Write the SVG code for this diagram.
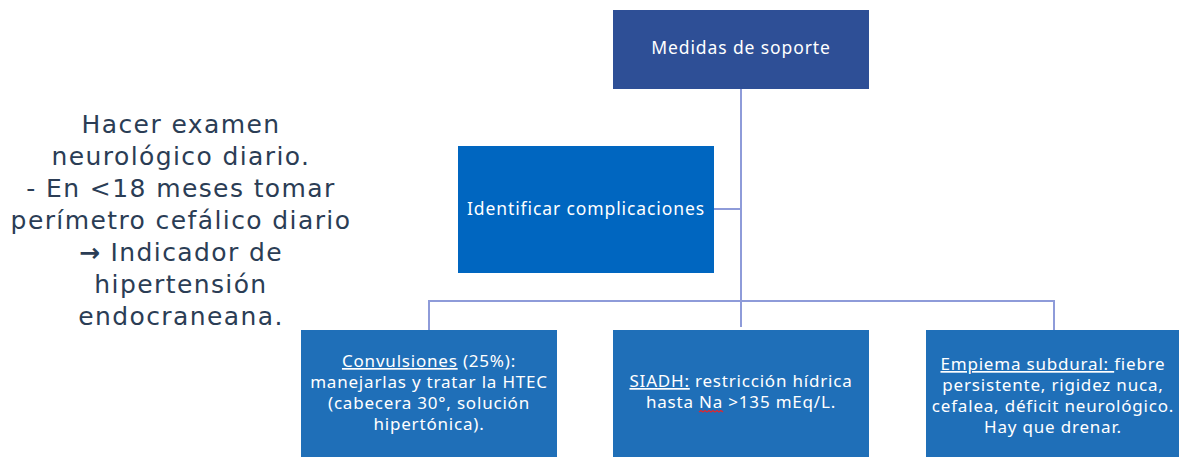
<svg xmlns="http://www.w3.org/2000/svg" width="1179" height="457" viewBox="0 0 1179 457">
<style>
.t{font-family:"Noto Sans","Open Sans",sans-serif;fill:#ffffff;font-size:17px;letter-spacing:0.8px;text-anchor:middle}
.h{font-size:17.5px;letter-spacing:0.9px}
.side{font-family:"DejaVu Sans","Noto Sans",sans-serif;fill:#2B3D55;font-size:25px;letter-spacing:1.4px;text-anchor:middle}
.ln{stroke:#8E9BD9;stroke-width:2;fill:none}
.wavy{stroke:#E0282E;stroke-width:1.2;fill:none}
</style>
<rect width="1179" height="457" fill="#ffffff"/>
<g id="connectors">
<path class="ln" d="M741 89V327"/>
<path class="ln" d="M714 209H741"/>
<path class="ln" d="M429 330V301H1054V330"/>
</g>
<g id="side-text">
<text class="side" x="181" y="133">Hacer examen</text>
<text class="side" x="181" y="165">neurológico diario.</text>
<text class="side" x="181" y="197">- En &lt;18 meses tomar</text>
<text class="side" x="181" y="229">perímetro cefálico diario</text>
<text class="side" x="181" y="261"><tspan font-weight="bold">→</tspan> Indicador de</text>
<text class="side" x="181" y="293">hipertensión</text>
<text class="side" x="181" y="325">endocraneana.</text>
</g>
<g id="medidas">
<rect x="613" y="10" width="256" height="79" fill="#2E4F96"/>
<text class="t h" x="741" y="54">Medidas de soporte</text>
</g>
<g id="identificar">
<rect x="458" y="146" width="256" height="127" fill="#0066C0"/>
<text class="t h" x="586" y="215">Identificar complicaciones</text>
</g>
<g id="convulsiones">
<rect x="301" y="330" width="256" height="130" fill="#1F6FB8"/>
<text class="t" x="429" y="367"><tspan text-decoration="underline">Convulsiones</tspan> (25%):</text>
<text class="t" x="429" y="388">manejarlas y tratar la HTEC</text>
<text class="t" x="429" y="409">(cabecera 30°, solución</text>
<text class="t" x="429" y="430">hipertónica).</text>
</g>
<g id="siadh">
<rect x="613" y="330" width="256" height="130" fill="#1F6FB8"/>
<text class="t" x="741" y="387"><tspan text-decoration="underline">SIADH:</tspan> restricción hídrica</text>
<text class="t" x="741" y="408">hasta Na &gt;135 mEq/L.</text>
<path class="wavy" d="M699 412l2 -1.5l2 1.5l2 -1.5l2 1.5l2 -1.5l2 1.5l2 -1.5l2 1.5l2 -1.5l2 1.5l2 -1.5l2 1.5"/>
</g>
<g id="empiema">
<rect x="926" y="330" width="256" height="130" fill="#1F6FB8"/>
<text class="t" x="1053" y="370"><tspan text-decoration="underline">Empiema subdural: </tspan>fiebre</text>
<text class="t" x="1053" y="391">persistente, rigidez nuca,</text>
<text class="t" x="1053" y="412">cefalea, déficit neurológico.</text>
<text class="t" x="1053" y="433">Hay que drenar.</text>
</g>
</svg>
